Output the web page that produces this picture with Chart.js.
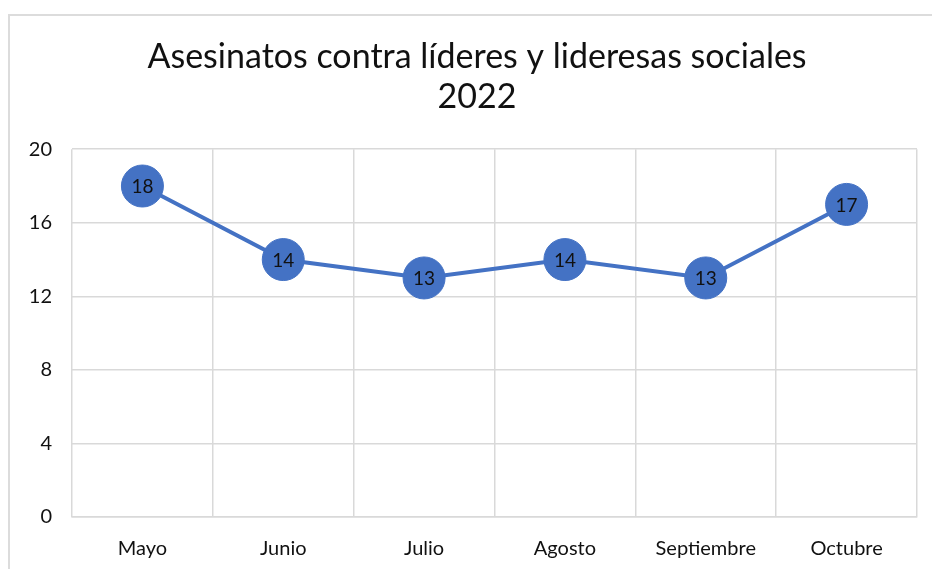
<!DOCTYPE html>
<html>
<head>
<meta charset="utf-8">
<script src="https://cdn.jsdelivr.net/npm/chart.js@4/dist/chart.umd.min.js"></script>
<style>
  html, body { margin: 0; padding: 0; background: #fff; }
  #wrap { width: 932px; height: 569px; position: relative; }
</style>
</head>
<body>
<div id="wrap"><canvas id="lideres_chart"></canvas></div>
<script>
var meses = ["Mayo", "Junio", "Julio", "Agosto", "Septiembre", "Octubre"];
var asesinatos = [18, 14, 13, 14, 13, 17];
var titulo = ["Asesinatos contra líderes y lideresas sociales", "2022"];
var azul = "#4472C4";
var fuente = "Lato, 'Open Sans', sans-serif";

// light frame around the whole chart
var marco = {
  id: 'marco',
  beforeDraw: function(chart){
    var c = chart.ctx;
    c.save();
    c.strokeStyle = "#dcdcdc";
    c.lineWidth = 2;
    c.strokeRect(9, 15, chart.width + 20, chart.height + 20);
    c.restore();
  }
};

// value written inside each marker
var etiquetas = {
  id: 'etiquetas',
  afterDatasetsDraw: function(chart){
    var c = chart.ctx;
    var meta = chart.getDatasetMeta(0);
    c.save();
    c.font = "19px " + fuente;
    c.fillStyle = "#111";
    c.textAlign = "center";
    c.textBaseline = "middle";
    meta.data.forEach(function(pt, i){
      c.fillText(chart.data.datasets[0].data[i], pt.x, pt.y + 1);
    });
    c.restore();
  }
};

var ctx = document.getElementById("lideres_chart").getContext('2d');
var lideres_chart = new Chart(ctx, {
  type: 'line',
  data: {
    labels: meses,
    datasets: [{
      data: asesinatos,
      borderColor: azul,
      backgroundColor: azul,
      borderWidth: 4,
      pointRadius: 21,
      pointHoverRadius: 21,
      pointBackgroundColor: azul,
      pointBorderColor: azul,
      pointBorderWidth: 1,
      tension: 0
    }]
  },
  options: {
    responsive: true,
    maintainAspectRatio: false,
    animation: false,
    layout: { autoPadding: false, padding: { left: 22, right: 0, top: 0, bottom: 0 } },
    plugins: {
      legend: { display: false },
      tooltip: { enabled: false },
      title: {
        display: true,
        text: titulo,
        color: "#111",
        font: { family: fuente, size: 34, weight: 'normal', lineHeight: 1.18 },
        padding: { top: 37, bottom: 32 }
      }
    },
    scales: {
      x: {
        offset: true,
        grid: { offset: true, color: "#d9d9d9", lineWidth: 1.5, drawTicks: false },
        border: { color: "#d9d9d9", width: 1.5 },
        ticks: { color: "#111", padding: 20, font: { family: fuente, size: 20 } },
        afterFit: function(scale){
          scale.height = 52;
          scale.paddingLeft = 0;
          scale.paddingRight = 0;
        }
      },
      y: {
        min: 0,
        max: 20,
        ticks: { stepSize: 4, color: "#111", padding: 20, font: { family: fuente, size: 20 } },
        grid: { color: "#d9d9d9", lineWidth: 1.5, drawTicks: false },
        border: { display: false },
        afterFit: function(scale){ scale.width = 50; }
      },
      // empty strip keeping a margin on the right side of the plot
      margen: {
        position: 'right',
        ticks: { display: false },
        grid: { display: false },
        border: { display: false },
        afterFit: function(scale){ scale.width = 15; }
      }
    }
  },
  plugins: [marco, etiquetas]
});
</script>
</body>
</html>
